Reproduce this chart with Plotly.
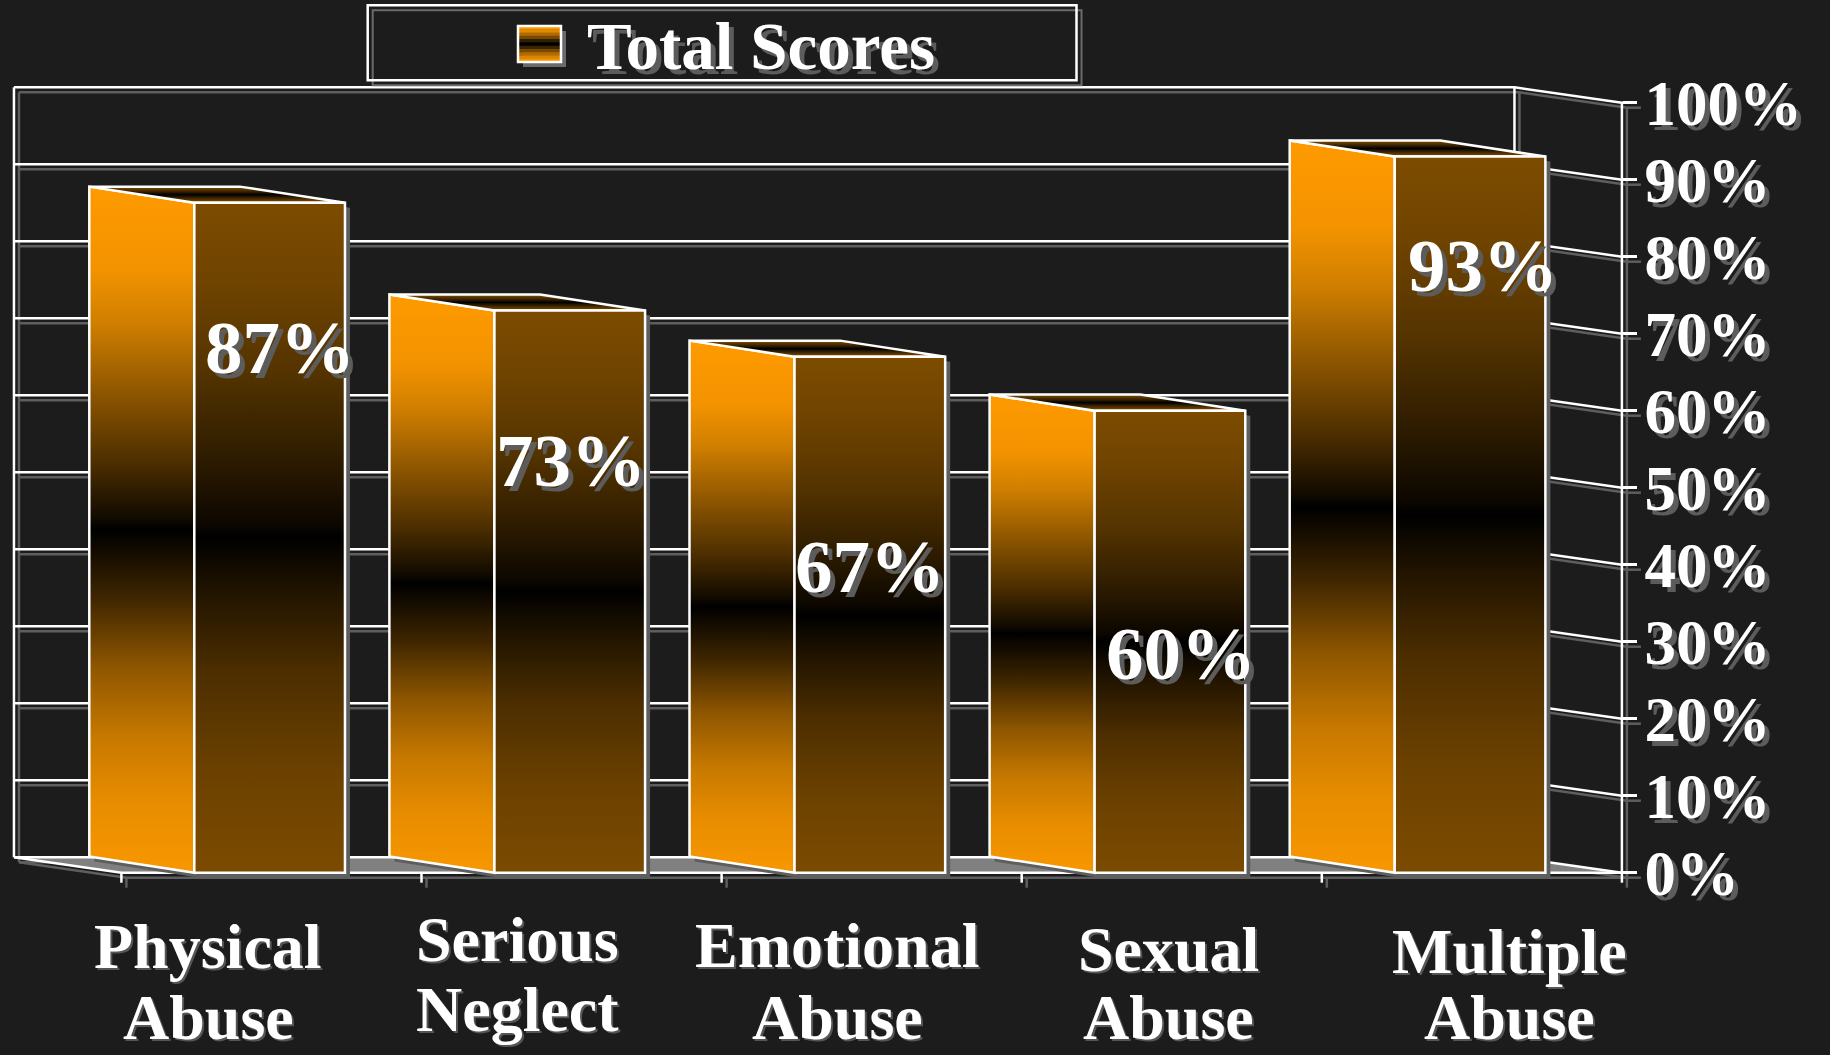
import plotly.graph_objects as go

# ---------------- data ----------------
categories = ["Physical<br>Abuse", "Serious<br>Neglect", "Emotional<br>Abuse",
              "Sexual<br>Abuse", "Multiple<br>Abuse"]
total_scores = [87, 73, 67, 60, 93]
series_name = "Total Scores"
tick_values = [0, 10, 20, 30, 40, 50, 60, 70, 80, 90, 100]
tick_labels = ["0%", "10%", "20%", "30%", "40%", "50%", "60%", "70%", "80%", "90%", "100%"]

# ---------------- layout / geometry constants ----------------
W, H = 1830, 1055
BG = "#1c1c1c"
FONT = "Liberation Serif"
X0_PX, CAT_PX = 121.4, 300.1      # pixel of first category boundary, pixels per category
Y0_PX, PCT_PX = 872.7, 7.70       # pixel of 0 %, pixels per 1 %
N = len(categories)
WALL_DX, WALL_DY = -0.358, 2.0    # depth offset of back wall (data units)
BAR_X0, BAR_W, BAR_DX, BAR_DY = 0.243, 0.502, -0.35, 2.1
SH_DX, SH_DY = 5 / CAT_PX, -5 / PCT_PX
TICK_DROP = 10 / PCT_PX
TICK_LEN = 14 / CAT_PX
SHADOW = "#5e5e5e"

# value label placement (relative x inside category, y in %)
VALUE_LABEL_DX = [0.530, 0.499, 0.495, 0.532, 0.536]
VALUE_LABEL_Y = [68.2, 53.5, 39.8, 28.5, 78.8]
# category label pixel placement: (x centre, line1 y, line2 y)
CAT_LABEL_PX = [(208, 946, 1017), (517, 939, 1009), (837, 945, 1017),
                (1168, 949, 1017), (1509, 951, 1017)]

x_range = [(0 - X0_PX) / CAT_PX, (W - X0_PX) / CAT_PX]
y_range = [(Y0_PX - H) / PCT_PX, Y0_PX / PCT_PX]

LEFT_SCALE = [[0, "#F89700"], [0.1, "#E88D00"], [0.2, "#C67800"], [0.3, "#8E5600"],
              [0.4, "#3F2600"], [0.48, "#0C0700"], [0.5, "#000000"], [0.52, "#140C00"],
              [0.6, "#4E2F00"], [0.7, "#8E5600"], [0.8, "#CF7E00"], [0.88, "#F39300"],
              [1, "#FF9A00"]]
FRONT_SCALE = [[0, "#7B4B00"], [0.15, "#6C4100"], [0.3, "#4C2E00"], [0.42, "#211400"],
               [0.5, "#000000"], [0.52, "#0C0700"], [0.62, "#2E1C00"], [0.75, "#553400"],
               [0.88, "#6F4300"], [1, "#7D4C00"]]
TOP_SCALE = [[0, "#8A5400"], [0.3, "#3A2300"], [0.5, "#000000"], [0.7, "#3A2300"],
             [1, "#8A5400"]]

fig = go.Figure()


def poly_trace(pts, fill=None, gradient=None, line_color="white", line_width=2.5):
    xs = [p[0] for p in pts] + [pts[0][0]]
    ys = [p[1] for p in pts] + [pts[0][1]]
    kw = dict(x=xs, y=ys, mode="lines", fill="toself", hoverinfo="skip",
              showlegend=False,
              line=dict(color=line_color, width=line_width))
    if gradient is not None:
        kw["fillgradient"] = dict(type="vertical", colorscale=gradient)
    else:
        kw["fillcolor"] = fill
    return go.Scatter(**kw)


# ---- wall / floor lines ----
lx, ly = [], []


def add(pts):
    for x, y in pts:
        lx.append(x)
        ly.append(y)
    lx.append(None)
    ly.append(None)


ymax = tick_values[-1]
for k in tick_values:
    add([(WALL_DX, k + WALL_DY), (N + WALL_DX, k + WALL_DY), (N, k)])
    add([(N, k), (N + TICK_LEN, k)])
add([(WALL_DX, WALL_DY), (WALL_DX, ymax + WALL_DY)])
add([(N + WALL_DX, WALL_DY), (N + WALL_DX, ymax + WALL_DY)])
add([(N, 0), (N, ymax)])
add([(WALL_DX, WALL_DY), (0, 0), (N, 0)])
for i in range(N + 1):
    add([(i, 0), (i, -TICK_DROP)])

sx = [None if v is None else v + SH_DX for v in lx]
sy = [None if v is None else v + SH_DY for v in ly]
fig.add_trace(go.Scatter(x=sx, y=sy, mode="lines", line=dict(color=SHADOW, width=2.5),
                         hoverinfo="skip", showlegend=False))
# floor
fig.add_trace(poly_trace([(WALL_DX, WALL_DY), (0, 0), (N, 0), (N + WALL_DX, WALL_DY)],
                         fill="#808080", line_width=0))
fig.add_trace(go.Scatter(x=lx, y=ly, mode="lines", line=dict(color="white", width=2.5),
                         hoverinfo="skip", showlegend=False))

# ---- bars ----
for i, v in enumerate(total_scores):
    xl = i + BAR_X0
    xr = xl + BAR_W
    shadow = [(xl + SH_DX, SH_DY), (xr + SH_DX, SH_DY), (xr + SH_DX, v + SH_DY),
              (xr + BAR_DX + SH_DX, v + BAR_DY + SH_DY), (xl + BAR_DX + SH_DX, v + BAR_DY + SH_DY),
              (xl + BAR_DX + SH_DX, BAR_DY + SH_DY)]
    fig.add_trace(poly_trace(shadow, fill=SHADOW, line_width=0))
    left = [(xl + BAR_DX, BAR_DY), (xl, 0), (xl, v), (xl + BAR_DX, v + BAR_DY)]
    fig.add_trace(poly_trace(left, gradient=LEFT_SCALE))
    top = [(xl, v), (xr, v), (xr + BAR_DX, v + BAR_DY), (xl + BAR_DX, v + BAR_DY)]
    fig.add_trace(poly_trace(top, gradient=TOP_SCALE))
    front = [(xl, 0), (xr, 0), (xr, v), (xl, v)]
    fig.add_trace(poly_trace(front, gradient=FRONT_SCALE))

annotations = []
# value labels
for i, v in enumerate(total_scores):
    annotations.append(dict(
        x=i + VALUE_LABEL_DX[i], y=VALUE_LABEL_Y[i], xref="x", yref="y",
        text=f"{v}%", showarrow=False, xanchor="center", yanchor="middle",
        font=dict(family=FONT, size=75, color="white", weight="bold",
                  shadow="5px 5px 0px #5c5c5c")))
# category labels
for (cx, y1, y2), lab in zip(CAT_LABEL_PX, categories):
    for yy, part in zip((y1, y2), lab.split("<br>")):
        annotations.append(dict(
            x=cx / W, y=1 - yy / H, xref="paper", yref="paper", text=part,
            showarrow=False, xanchor="center", yanchor="middle",
            font=dict(family=FONT, size=64, color="white", weight="bold",
                      shadow="2px 2px 0px #555555")))
# legend text
annotations.append(dict(
    x=761 / W, y=1 - 45.8 / H, xref="paper", yref="paper", text=series_name,
    showarrow=False, xanchor="center", yanchor="middle",
    font=dict(family=FONT, size=67, color="white", weight="bold",
              shadow="5px 5px 0px #5c5c5c")))

# ---- legend box & swatch (layout shapes in pixel units) ----
def px_rect(x0, y0, x1, y1, **kw):
    return dict(type="rect", xref="paper", yref="paper",
                x0=x0 / W, x1=x1 / W, y0=1 - y0 / H, y1=1 - y1 / H, **kw)


shapes = []
shapes.append(px_rect(372.7, 10.3, 1081.5, 85.3, line=dict(color="#6a6a6a", width=2)))
shapes.append(px_rect(367.7, 5.3, 1076.5, 80.3, line=dict(color="white", width=2.5)))
shapes.append(px_rect(523, 31, 566, 67, fillcolor="#6a6a6a", line=dict(width=0)))
swatch = ["#FF9900", "#E08A00", "#B06A00", "#774800", "#321E00", "#000000",
          "#3A2300", "#7A4900", "#B06A00", "#DB8400", "#F79500"]
sy0, sy1 = 26.0, 62.0
step = (sy1 - sy0) / len(swatch)
for j, c in enumerate(swatch):
    shapes.append(px_rect(518, sy0 + j * step, 561, sy0 + (j + 1) * step + 0.4,
                          fillcolor=c, line=dict(width=0)))
shapes.append(px_rect(518, sy0, 561, sy1, line=dict(color="white", width=2.5)))

fig.update_layout(
    width=W, height=H, autosize=False,
    margin=dict(l=0, r=0, t=0, b=0, pad=0),
    paper_bgcolor=BG, plot_bgcolor=BG,
    showlegend=False,
    xaxis=dict(range=x_range, visible=False, fixedrange=True),
    yaxis=dict(range=y_range, side="right", anchor="free", position=N * CAT_PX / W + X0_PX / W,
               tickvals=tick_values, ticktext=tick_labels, ticks="outside", ticklen=14,
               tickwidth=2.5, tickcolor="white", showgrid=False, zeroline=False,
               showline=False, automargin=False, fixedrange=True, ticklabelstandoff=-5,
               tickfont=dict(family=FONT, size=63, color="white", weight="bold",
                             shadow="5px 5px 0px #5c5c5c")),
    annotations=annotations,
    shapes=shapes,
)

fig.write_html("out.html", config={"displayModeBar": False},
               post_script="document.body.style.margin='0';document.body.style.overflow='hidden';")
